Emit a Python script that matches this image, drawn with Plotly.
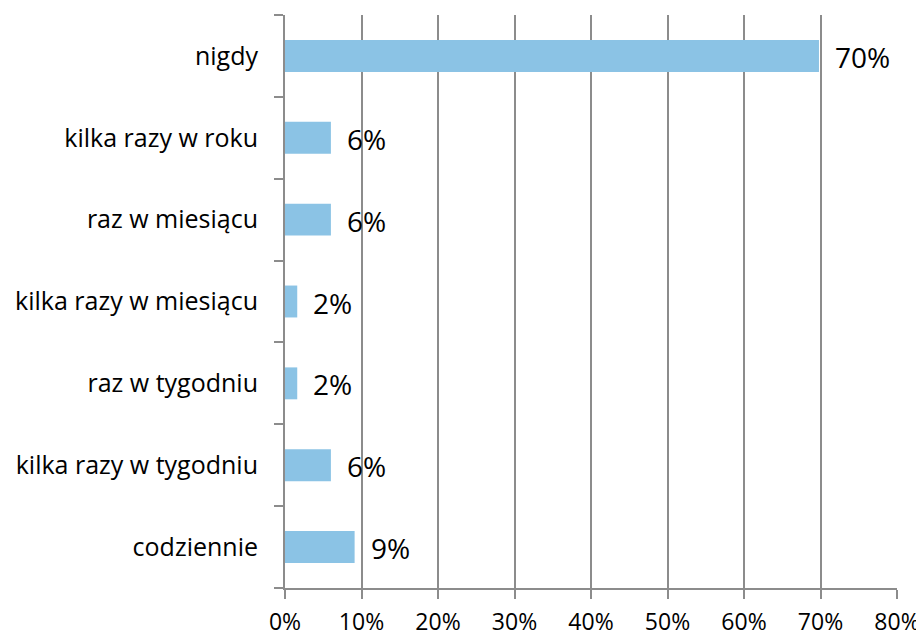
import plotly.graph_objects as go

categories = ["nigdy", "kilka razy w roku", "raz w miesiącu", "kilka razy w miesiącu",
              "raz w tygodniu", "kilka razy w tygodniu", "codziennie"]
values = [0.698, 0.060, 0.060, 0.016, 0.016, 0.060, 0.091]
labels = ["70%", "6%", "6%", "2%", "2%", "6%", "9%"]
x_ticks = [0, 0.1, 0.2, 0.3, 0.4, 0.5, 0.6, 0.7, 0.8]
x_tick_labels = ["0%", "10%", "20%", "30%", "40%", "50%", "60%", "70%", "80%"]

fig = go.Figure()
fig.add_trace(go.Bar(
    y=categories, x=values, orientation="h",
    marker=dict(color="#8BC3E5", line=dict(width=0)),
    width=0.39,
    hoverinfo="skip",
))
for c, v, t in zip(categories, values, labels):
    fig.add_annotation(x=v, y=c, text=t, showarrow=False, xanchor="left",
                       xshift=14, yshift=-1,
                       font=dict(family="Open Sans", size=28, color="#000"))

# page body has an 8px default margin; compensate so the plot area lands
# where the reference has it
fig.update_layout(
    width=916, height=631,
    margin=dict(l=277, r=27, t=7, b=51),
    plot_bgcolor="white", paper_bgcolor="white",
    showlegend=False,
    font=dict(family="Open Sans", color="#000"),
    xaxis=dict(range=[0, 0.8], tickvals=x_ticks, ticktext=x_tick_labels,
               showgrid=True, gridcolor="#8c8c8c", gridwidth=2,
               showline=True, linecolor="#8c8c8c", linewidth=2,
               ticks="outside", ticklen=9, tickwidth=2, tickcolor="#8c8c8c",
               tickfont=dict(size=23, color="#000"), zeroline=False, fixedrange=True,
               automargin=False, ticklabelstandoff=3),
    yaxis=dict(categoryorder="array", categoryarray=categories[::-1],
               showgrid=False, showline=True, linecolor="#8c8c8c", linewidth=2,
               ticks="outside", ticklen=9, tickwidth=2, tickcolor="#8c8c8c",
               tickson="boundaries", ticklabelstandoff=20, automargin=False,
               tickfont=dict(size=25, color="#000"), fixedrange=True),
)
fig.write_html("out.html")
